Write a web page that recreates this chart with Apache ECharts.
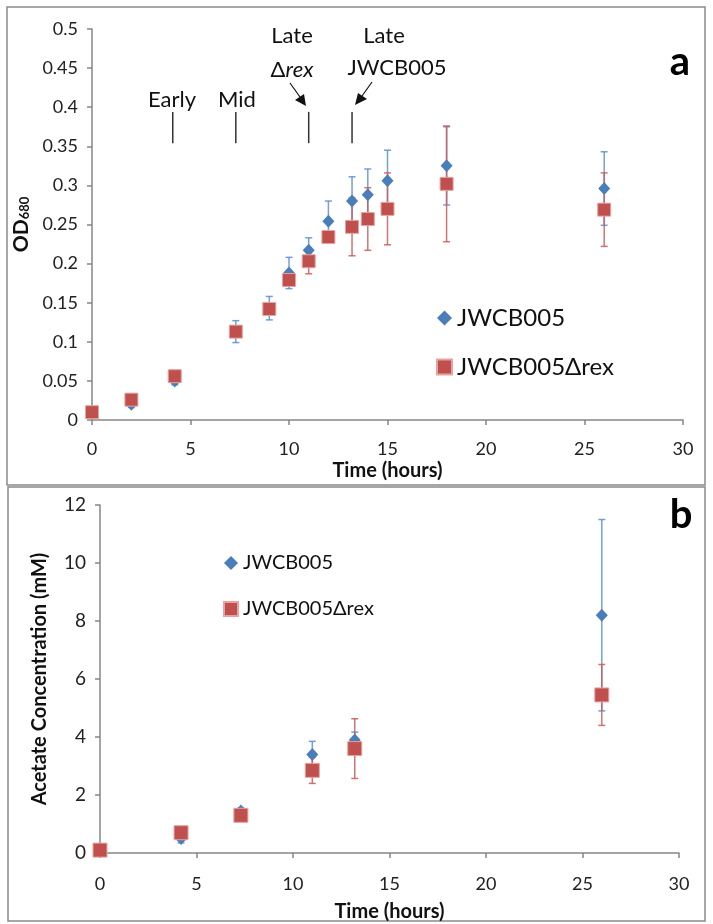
<!DOCTYPE html>
<html>
<head>
<meta charset="utf-8">
<script src="https://cdn.jsdelivr.net/npm/echarts@6/dist/echarts.min.js"></script>
<style>
html, body { margin: 0; padding: 0; background: #fff; }
#main { width: 713px; height: 924px; }
</style>
</head>
<body>
<div id="main"></div>
<script>
// panel a - growth (OD680)
var timeA = [0, 2, 4.2, 7.3, 9, 10, 11, 12, 13.2, 14, 15, 18, 26];
var odWt = [0.010, 0.020, 0.050, 0.113, 0.143, 0.188, 0.217, 0.254, 0.280, 0.288, 0.306, 0.325, 0.296];
var odWtErr = [0.002, 0.004, 0.005, 0.014, 0.015, 0.020, 0.016, 0.026, 0.031, 0.033, 0.039, 0.050, 0.047];
var odRex = [0.010, 0.026, 0.056, 0.113, 0.142, 0.179, 0.203, 0.234, 0.247, 0.257, 0.270, 0.302, 0.269];
var odRexErr = [0.002, 0.004, 0.005, 0.005, 0.004, 0.008, 0.016, 0.005, 0.037, 0.040, 0.046, 0.074, 0.047];

// panel b - acetate (mM)
var timeB = [0, 4.2, 7.3, 11, 13.2, 26];
var acWt = [0.1, 0.5, 1.45, 3.4, 3.9, 8.2];
var acWtErr = [0.05, 0.15, 0.1, 0.45, 0.27, 3.3];
var acRex = [0.1, 0.7, 1.3, 2.85, 3.6, 5.45];
var acRexErr = [0.05, 0.1, 0.1, 0.45, 1.03, 1.05];

// sampling points marked in panel a
var annoTimes = [4.1, 7.3, 11.0, 13.2];

var names = ['JWCB005', 'JWCB005\u0394rex'];
var BLUE = '#4a7ebb', RED = '#c0504d';
var FONT = 'Lato';

(function () {
    var myChart = echarts.init(document.getElementById('main'));

    function pts(t, v) {
        return t.map(function (x, i) { return [x, v[i]]; });
    }

    // error bars with caps
    function errBars(gi, t, v, e, color) {
        return {
            type: 'custom',
            coordinateSystem: 'cartesian2d',
            xAxisIndex: gi,
            yAxisIndex: gi,
            silent: true,
            data: t.map(function (x, i) { return [x, v[i], e[i]]; }),
            encode: { x: 0, y: 1 },
            renderItem: function (params, api) {
                var x = api.value(0), y = api.value(1), er = api.value(2);
                var hi = api.coord([x, y + er]);
                var lo = api.coord([x, y - er]);
                var w = 3.5;
                var st = { stroke: color, lineWidth: 1.5, opacity: 0.85 };
                return {
                    type: 'group',
                    children: [
                        { type: 'line', shape: { x1: hi[0], y1: hi[1], x2: lo[0], y2: lo[1] }, style: st },
                        { type: 'line', shape: { x1: hi[0] - w, y1: hi[1], x2: hi[0] + w, y2: hi[1] }, style: st },
                        { type: 'line', shape: { x1: lo[0] - w, y1: lo[1], x2: lo[0] + w, y2: lo[1] }, style: st }
                    ]
                };
            }
        };
    }

    function xAx(gi, margin, gap) {
        return {
            type: 'value', gridIndex: gi, min: 0, max: 30, interval: 5,
            axisLine: { lineStyle: { color: '#868686', width: 1.5 } },
            axisTick: { length: 5, lineStyle: { color: '#868686', width: 1.5 } },
            axisLabel: { color: '#222', fontSize: 18, fontFamily: FONT, margin: margin },
            splitLine: { show: false },
            name: 'Time (hours)',
            nameLocation: 'middle',
            nameGap: gap,
            nameTextStyle: { fontFamily: FONT, fontWeight: 'bold', fontSize: 20, color: '#111' }
        };
    }

    option = {
        animation: false,
        grid: [
            { left: 92, top: 29, width: 591, height: 391, outerBoundsMode: 'none' },
            { left: 100, top: 505, width: 579, height: 348, outerBoundsMode: 'none' }
        ],
        xAxis: [xAx(0, 20, 41), xAx(1, 22, 49)],
        yAxis: [
            {
                type: 'value', gridIndex: 0, min: 0, max: 0.5, interval: 0.05,
                axisLine: { show: true, lineStyle: { color: '#868686', width: 1.5 } },
                axisTick: { show: true, length: 5, lineStyle: { color: '#868686', width: 1.5 } },
                axisLabel: {
                    color: '#222', fontSize: 18, fontFamily: FONT, margin: 14,
                    formatter: function (v) { return String(Math.round(v * 100) / 100); }
                },
                splitLine: { show: false },
                name: '{od|OD}{sub|680}',
                nameLocation: 'middle',
                nameGap: 56,
                nameRotate: 90,
                nameTextStyle: {
                    rich: {
                        od: { fontFamily: FONT, fontWeight: 'bold', fontSize: 21, color: '#111', lineHeight: 24, verticalAlign: 'bottom' },
                        sub: { fontFamily: FONT, fontWeight: 'bold', fontSize: 13, color: '#111', lineHeight: 24, verticalAlign: 'bottom', padding: [10, 0, 0, 0] }
                    }
                }
            },
            {
                type: 'value', gridIndex: 1, min: 0, max: 12, interval: 2,
                axisLine: { show: true, lineStyle: { color: '#868686', width: 1.5 } },
                axisTick: { show: true, length: 5, lineStyle: { color: '#868686', width: 1.5 } },
                axisLabel: { color: '#222', fontSize: 19, fontFamily: FONT, margin: 14 },
                splitLine: { show: false },
                name: 'Acetate Concentration (mM)',
                nameLocation: 'middle',
                nameGap: 50,
                nameRotate: 90,
                nameTextStyle: { fontFamily: FONT, fontWeight: 'bold', fontSize: 20, color: '#111' }
            }
        ],
        legend: [
            {
                data: names, left: 431, top: 301, orient: 'vertical', itemGap: 25,
                itemWidth: 15, itemHeight: 15, selectedMode: false,
                textStyle: { fontFamily: FONT, fontSize: 24, lineHeight: 24, color: '#111' }
            },
            {
                data: names, left: 218, top: 548, orient: 'vertical', itemGap: 26,
                itemWidth: 14, itemHeight: 14, selectedMode: false,
                textStyle: { fontFamily: FONT, fontSize: 20, lineHeight: 20, color: '#111' }
            }
        ],
        graphic: [
            { type: 'rect', shape: { x: 7, y: 7, width: 698, height: 478 }, style: { fill: 'none', stroke: '#8a8a8a', lineWidth: 1.5 } },
            { type: 'rect', shape: { x: 8, y: 487, width: 697, height: 434 }, style: { fill: 'none', stroke: '#8a8a8a', lineWidth: 1.5 } },
            { type: 'text', x: 680, y: 62, style: { text: 'a', fontFamily: FONT, fontWeight: 'bold', fontSize: 40, fill: '#000', align: 'center', verticalAlign: 'middle' } },
            { type: 'text', x: 681, y: 515, style: { text: 'b', fontFamily: FONT, fontWeight: 'bold', fontSize: 40, fill: '#000', align: 'center', verticalAlign: 'middle' } },
            // sampling annotations
            { type: 'text', x: 172, y: 100, style: { text: 'Early', fontFamily: FONT, fontSize: 22, fill: '#111', align: 'center', verticalAlign: 'middle' } },
            { type: 'text', x: 237, y: 100, style: { text: 'Mid', fontFamily: FONT, fontSize: 22, fill: '#111', align: 'center', verticalAlign: 'middle' } },
            { type: 'text', x: 292, y: 36, style: { text: 'Late', fontFamily: FONT, fontSize: 22, fill: '#111', align: 'center', verticalAlign: 'middle' } },
            {
                type: 'text', x: 292, y: 70,
                style: {
                    text: '{n|\u0394}{i|rex}', align: 'center', verticalAlign: 'middle',
                    rich: {
                        n: { fontFamily: FONT, fontSize: 22, fill: '#111' },
                        i: { fontFamily: FONT, fontSize: 22, fontStyle: 'italic', fill: '#111' }
                    }
                }
            },
            { type: 'text', x: 384, y: 36, style: { text: 'Late', fontFamily: FONT, fontSize: 22, fill: '#111', align: 'center', verticalAlign: 'middle' } },
            { type: 'text', x: 397, y: 68, style: { text: 'JWCB005', fontFamily: FONT, fontSize: 22, fill: '#111', align: 'center', verticalAlign: 'middle' } },
            { type: 'line', shape: { x1: 290, y1: 83, x2: 300, y2: 97 }, style: { stroke: '#111', lineWidth: 1.2 } },
            { type: 'polygon', shape: { points: [[306, 106], [295, 100], [304, 94]] }, style: { fill: '#111' } },
            { type: 'line', shape: { x1: 372, y1: 82, x2: 362, y2: 96 }, style: { stroke: '#111', lineWidth: 1.2 } },
            { type: 'polygon', shape: { points: [[355, 105], [358, 93], [367, 99]] }, style: { fill: '#111' } }
        ],
        series: [
            {
                type: 'custom',
                coordinateSystem: 'cartesian2d',
                xAxisIndex: 0, yAxisIndex: 0, silent: true,
                data: annoTimes.map(function (t) { return [t, 0.375]; }),
                encode: { x: 0, y: 1 },
                renderItem: function (params, api) {
                    var t = api.value(0);
                    var p1 = api.coord([t, 0.394]), p2 = api.coord([t, 0.354]);
                    return { type: 'line', shape: { x1: p1[0], y1: p1[1], x2: p2[0], y2: p2[1] }, style: { stroke: '#333', lineWidth: 1.5 } };
                }
            },
            errBars(0, timeA, odWt, odWtErr, '#5b8fd0'),
            errBars(0, timeA, odRex, odRexErr, '#cc5a5a'),
            {
                name: names[0], type: 'scatter', xAxisIndex: 0, yAxisIndex: 0,
                symbol: 'diamond', symbolSize: [12, 13],
                itemStyle: { color: BLUE, opacity: 1 },
                data: pts(timeA, odWt)
            },
            {
                name: names[1], type: 'scatter', xAxisIndex: 0, yAxisIndex: 0,
                symbol: 'rect', symbolSize: 13,
                itemStyle: { color: RED, borderColor: '#e8a3a1', borderWidth: 1, opacity: 1 },
                data: pts(timeA, odRex)
            },
            errBars(1, timeB, acWt, acWtErr, '#5b8fd0'),
            errBars(1, timeB, acRex, acRexErr, '#cc5a5a'),
            {
                name: names[0], type: 'scatter', xAxisIndex: 1, yAxisIndex: 1,
                symbol: 'diamond', symbolSize: [12, 13],
                itemStyle: { color: BLUE, opacity: 1 },
                data: pts(timeB, acWt)
            },
            {
                name: names[1], type: 'scatter', xAxisIndex: 1, yAxisIndex: 1,
                symbol: 'rect', symbolSize: 14,
                itemStyle: { color: RED, borderColor: '#e8a3a1', borderWidth: 1, opacity: 1 },
                data: pts(timeB, acRex)
            }
        ]
    };
    myChart.setOption(option);
})()
</script>
</body>
</html>
